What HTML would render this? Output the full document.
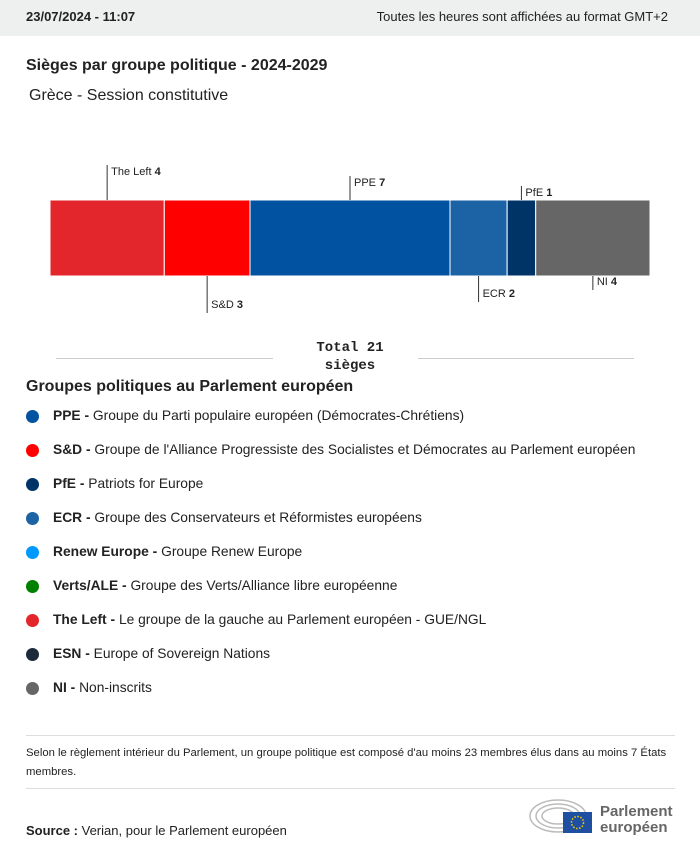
<!DOCTYPE html>
<html><head><meta charset="utf-8">
<style>
body{margin:0;width:700px;height:856px;background:#fff;font-family:"Liberation Sans",sans-serif;color:#222;position:relative;overflow:hidden}
.hdr{position:absolute;left:0;top:0;width:700px;height:36px;background:#eef0ef}
.abs{position:absolute;white-space:nowrap}
.leg{position:absolute;left:26px;font-size:13.8px}
.dot{position:absolute;left:0;top:2px;width:13px;height:13px;border-radius:50%}
.leg span.t{position:absolute;left:27px;top:0;white-space:nowrap}
</style></head><body>
<div class="hdr"></div>
<div class="abs" style="left:26px;top:9px;font-size:13px;font-weight:bold">23/07/2024 - 11:07</div>
<div class="abs" style="right:32px;top:9px;font-size:13px">Toutes les heures sont affichées au format GMT+2</div>
<div class="abs" style="left:26px;top:57px;font-size:16px;font-weight:bold">Sièges par groupe politique - 2024-2029</div>
<div class="abs" style="left:29px;top:87px;font-size:16px">Grèce - Session constitutive</div>
<svg id="chart" class="abs" style="left:0;top:150px" width="700" height="180"></svg>
<div class="abs" style="left:56px;top:358px;width:217px;border-top:1px solid #ccc"></div>
<div class="abs" style="left:418px;top:358px;width:216px;border-top:1px solid #ccc"></div>
<div class="abs" style="left:300px;top:339px;width:100px;text-align:center;font-family:'Liberation Mono',monospace;font-weight:bold;font-size:14px;line-height:18px;white-space:normal">Total 21 sièges</div>
<div class="abs" style="left:26px;top:378px;font-size:16px;font-weight:bold">Groupes politiques au Parlement européen</div>
<div id="legend"></div>
<div class="abs" style="left:26px;top:735px;width:649px;border-top:1px solid #ddd"></div>
<div class="abs" style="left:26px;top:744px;width:652px;font-size:11.3px;line-height:19px;white-space:normal">Selon le règlement intérieur du Parlement, un groupe politique est composé d'au moins 23 membres élus dans au moins 7 États membres.</div>
<div class="abs" style="left:26px;top:788px;width:649px;border-top:1px solid #ddd"></div>
<div class="abs" style="left:26px;top:823px;font-size:13px"><b>Source :</b> Verian, pour le Parlement européen</div>
<svg class="abs" style="left:528px;top:798px" width="66" height="36">
<g fill="none" stroke="#bbb" stroke-width="1.5"><ellipse cx="30" cy="18" rx="28" ry="16"/><ellipse cx="30" cy="18" rx="22" ry="12"/><ellipse cx="30" cy="18" rx="16" ry="8"/></g>
<rect x="35" y="14" width="29" height="21" fill="#1f4fa0"/><circle cx="49.5" cy="24.5" r="6" fill="none" stroke="#fc0" stroke-width="1.5" stroke-dasharray="1.5 1.6"/></svg>
<div class="abs" style="left:600px;top:804px;font-size:15px;font-weight:bold;color:#666;line-height:16px">Parlement<br>européen</div>
<script>
const groups=["The Left","S&D","PPE","ECR","PfE","NI"];
const seats=[4,3,7,2,1,4];
const colors=["#e3262b","#ff0000","#0152a0","#1b63a5","#003366","#666666"];
const labelSide=[-1,1,-1,1,-1,1];
const labelLen=[35,37,24,26,14,14];
const svg=document.getElementById('chart');
const NS="http://www.w3.org/2000/svg";
const total=seats.reduce((a,b)=>a+b,0);
const x0=50,w=600,y0=50,h=76;
const sx=v=>x0+v/total*w;
let cum=0;
seats.forEach((s,i)=>{
 const r=document.createElementNS(NS,'rect');
 
 
 r.setAttribute('x',sx(cum));r.setAttribute('y',y0);r.setAttribute('width',sx(cum+s)-sx(cum));r.setAttribute('height',h);
 r.setAttribute('fill',colors[i]);r.setAttribute('stroke','#fff');r.setAttribute('stroke-width','1');
 svg.appendChild(r);
 const cx=(sx(cum)+sx(cum+s))/2;
 const ly1=labelSide[i]<0?y0:y0+h, ly2=labelSide[i]<0?y0-labelLen[i]:y0+h+labelLen[i];
 const l=document.createElementNS(NS,'line');
 
 
 l.setAttribute('x1',cx);l.setAttribute('x2',cx);l.setAttribute('y1',ly1);l.setAttribute('y2',ly2);l.setAttribute('stroke','#333');
 svg.appendChild(l);
 const t=document.createElementNS(NS,'text');
 
 
 t.setAttribute('x',cx+4);t.setAttribute('y',labelSide[i]<0?ly2+10:ly2-5);
 t.setAttribute('font-size','11');t.setAttribute('fill','#222');
 t.innerHTML=groups[i].replace('&','&amp;')+' <tspan font-weight="bold">'+s+'</tspan>';
 svg.appendChild(t);
 cum+=s;
});
const legAbbr=["PPE","S&D","PfE","ECR","Renew Europe","Verts/ALE","The Left","ESN","NI"];
const legDesc=["Groupe du Parti populaire européen (Démocrates-Chrétiens)","Groupe de l'Alliance Progressiste des Socialistes et Démocrates au Parlement européen","Patriots for Europe","Groupe des Conservateurs et Réformistes européens","Groupe Renew Europe","Groupe des Verts/Alliance libre européenne","Le groupe de la gauche au Parlement européen - GUE/NGL","Europe of Sovereign Nations","Non-inscrits"];
const legColors=["#0152a0","#ff0000","#003366","#1b63a5","#0099ff","#008000","#e3262b","#1c2a3a","#666666"];
const leg=document.getElementById('legend');
legAbbr.forEach((a,i)=>{
 const d=document.createElement('div');
 
 
 d.className='leg';d.style.top=(408+i*34)+'px';
 d.innerHTML='<div class="dot" style="background:'+legColors[i]+'"></div><span class="t"><b></b> </span>';
 d.querySelector('b').textContent=a+' -';
 d.querySelector('.t').appendChild(document.createTextNode(legDesc[i]));
 leg.appendChild(d);
});
</script>
</body></html>
